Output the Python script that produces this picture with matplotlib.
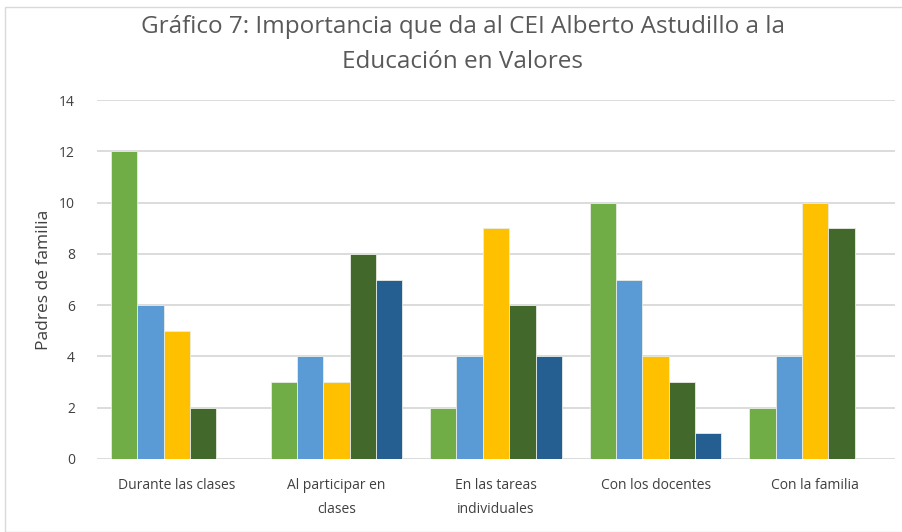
import numpy as np
import matplotlib
matplotlib.use("Agg")
import matplotlib.pyplot as plt
from matplotlib.patches import Rectangle

plt.rcParams['font.family'] = ['Open Sans', 'DejaVu Sans']

categorias = ["Durante las clases", "Al participar en\nclases", "En las tareas\nindividuales",
              "Con los docentes", "Con la familia"]
serie1 = [12, 3, 2, 10, 2]
serie2 = [6, 4, 4, 7, 4]
serie3 = [5, 3, 9, 4, 10]
serie4 = [2, 8, 6, 3, 9]
serie5 = [0, 7, 4, 1, 0]
series = [serie1, serie2, serie3, serie4, serie5]
colores = ["#70AD47", "#5B9BD5", "#FFC000", "#43682B", "#255E91"]

fig = plt.figure(figsize=(9.03, 5.32), dpi=100)
ax = fig.add_axes([97/903, 1-459/532, (895-97)/903, (459-100)/532])

x = np.arange(len(categorias))
w = 0.165
for i, (s, c) in enumerate(zip(series, colores)):
    ax.bar(x + (i - 2) * w, s, width=w, color=c, edgecolor="#E8EDE4", linewidth=0.6, zorder=3)

ax.set_xlim(-0.5, len(categorias) - 0.5)
ax.set_ylim(0, 14)
ax.set_yticks(range(0, 15, 2))
ax.grid(axis='y', color="#D9D9D9", linewidth=1.3, zorder=0)
for sp in ax.spines.values():
    sp.set_visible(False)
ax.tick_params(axis='both', length=0, labelsize=10, colors="#404040")
ax.tick_params(axis='x', pad=14)
ax.tick_params(axis='y', pad=16)
ax.set_xticks(x)
ax.set_xticklabels(categorias, linespacing=1.75)

fig.text(44/903, 1 - 280/532, "Padres de familia", rotation=90, ha='center', va='center',
         fontsize=12.5, color="#404040")

fig.text(463/903, 1 - 27/532, "Gráfico 7: Importancia que da al CEI Alberto Astudillo a la",
         ha='center', va='center', fontsize=17.5, color="#595959")
fig.text(463/903, 1 - 62/532, "Educación en Valores",
         ha='center', va='center', fontsize=17.5, color="#595959")

# marco del gráfico
fig.patches.append(Rectangle((5/903, 0), 1, 1 - 7/532, transform=fig.transFigure,
                             fill=False, edgecolor="#D9D9D9", linewidth=1))

fig.savefig("out.png", dpi=100)
